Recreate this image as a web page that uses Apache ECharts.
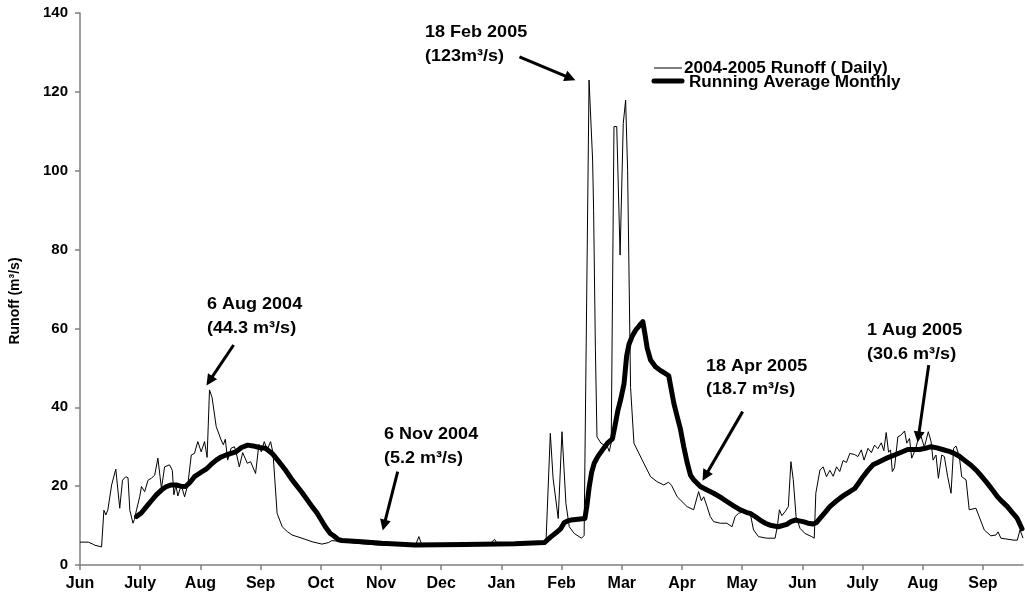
<!DOCTYPE html>
<html>
<head>
<meta charset="utf-8">
<script src="https://cdn.jsdelivr.net/npm/echarts@6/dist/echarts.min.js"></script>
<style>html,body{margin:0;padding:0;background:#fff}#c{width:1025px;height:604px}</style>
</head>
<body>
<div id="c"></div>
<script>
// x values are days counted from the start of June 2004 (one axis month = 30.45 days)
var monthLabels = ['Jun','July','Aug','Sep','Oct','Nov','Dec','Jan','Feb','Mar','Apr','May','Jun','July','Aug','Sep'];
var monthStep = 30.45;
var yTicks = [0,20,40,60,80,100,120,140];

var dailyDays = [0,4.2,6.5,7.6,10.9,12.1,13.1,14.1,16,16.6,18.1,20.1,21.5,23.2,24.3,25.2,26.8,27.5,28.6,30.2,31.1,32.7,34.4,36.1,37.8,39.4,41.2,42.8,45.3,46.7,47.5,48.5,49.5,51.2,52.9,54.5,56.3,57.9,59.6,61.3,63,64.3,65.5,66.8,68.9,71.4,72.5,73.5,74.7,76.4,78.1,78.9,80.6,82.3,84.6,86.3,88.8,90.5,91.7,93.2,94.7,96.4,97.6,98.5,99.7,102.3,104.8,107.3,112.3,117.4,122.4,125.8,127.4,132.5,142.5,152.6,167.7,169.7,171.4,173,187.9,207,209.7,211.5,228.2,235.7,237.9,239.3,241.9,243.8,245.8,247.5,250,253.7,255,257.5,259.3,259.8,260.7,261.5,263.5,266.8,267.7,268.7,270.1,271.5,273.2,274.8,276,277,278.5,280.2,284.4,288.6,292,295.3,297.7,299.2,302.1,307.1,310.4,312.9,314.3,315.5,317.2,318.8,320.5,323.9,327.2,329.8,331.4,333.1,335.6,337.3,339,340.7,343.2,347.4,351.6,352.7,353.8,355,356.6,358.3,359.6,360.8,362.2,364.2,366.7,370.1,371.4,372.2,374.3,375.9,377.6,379.3,381,382.7,384.3,386,387.7,389.4,391.9,393.5,395.2,396.6,398.6,400.3,401.9,403.6,405.3,406.6,407.8,409,410,410.9,412,413.7,415.4,417.1,418.2,419.6,420.7,422.5,424.1,425.5,427.1,429.1,430.5,431.5,433,434.2,435.9,437.2,438.9,440.6,441.9,443.1,444.8,446,448.2,449.8,453.2,454.8,457.4,460.7,463.3,464.4,465.8,472.5,474.1,475.5,477];
var dailyRunoff = [5.8,5.8,5.3,5.0,4.6,13.9,12.7,14.0,20.3,20.0,24.3,14.4,21.5,22.4,22.1,13.9,10.6,11.5,14.0,17.3,19.9,18.6,21.5,22.0,22.8,27.1,19.4,24.9,25.4,24.0,17.8,20.3,17.5,20.3,17.3,20.3,27.9,28.3,31.3,28.7,31.3,27.3,44.4,42.5,35.1,31.7,30.5,31.9,26.6,29.6,30.0,28.7,24.9,28.5,25.8,26.2,23.2,30.6,28.7,31.3,29.2,31.3,28.5,22.0,13.1,9.7,8.5,7.6,6.8,5.9,5.3,5.7,6.2,5.9,5.4,5.0,4.9,5.0,7.2,5.0,4.9,5.2,6.5,5.1,5.2,5.6,33.4,22.0,11.8,33.8,15.6,9.7,8.0,6.8,7.5,123.0,102.7,90,55,32.5,30.9,30.0,28.8,31.0,111.2,111.2,78.6,112,117.9,100,45,30.9,26.6,22.4,21.1,20.3,21.0,20.2,17.3,14.8,14.0,18.6,16.3,17.3,14.8,12.3,11.0,10.6,10.6,9.7,12.3,13.1,13.5,12.8,13.1,8.9,7.2,6.8,6.8,9.7,14.0,12.5,13.5,14.8,26.2,21.6,12.3,9.3,8.0,7.2,6.8,18.2,24.1,24.9,22.4,24.0,22.5,24.9,23.7,26.5,26.0,28.3,28.0,27.5,29.2,26.6,29.6,28.5,30.4,29.5,31.0,29.0,33.6,28.6,29.2,23.7,24.7,32.5,33.0,34.0,30.9,32.1,27.1,29.2,32.1,32.5,29.9,33.8,31.3,26.6,27.9,22.0,27.9,27.5,22.4,18.2,29.6,30.2,27.5,22.4,21.6,14.0,14.4,12.3,8.9,7.4,7.6,8.4,6.8,6.3,6.3,8.9,6.8];

var avgDays = [28.6,31,33.6,36.1,38.6,41.2,43.7,46.2,48.7,51,53.4,55.7,57.9,60.9,63.8,66.3,68.9,71.4,73.9,76.4,78.9,81.7,84.8,87.6,90.7,93.8,97.2,100.6,103.9,107.3,112.3,117.4,119.9,124.1,126.6,128.3,130.8,132.5,142.5,152.6,169.4,194.6,219.8,234.9,238.3,241.6,243.3,244.9,246.7,248.3,251.9,255.4,256.4,257.6,258.8,260.1,261.9,264.3,266.8,269.3,270.5,272,273.5,275.2,276.5,277.7,279.3,281.1,283.1,284.7,285.8,286.9,288.6,291.1,293.7,295.6,297.8,298.9,300.4,302.1,303.7,305.4,307.1,308.8,310.4,313.8,317.2,320.5,323.9,327.2,330.6,334,337.3,339,341.5,344,346.6,349.1,353.2,357.5,359.6,361.7,363.7,365.8,368.2,370.9,372.6,374.3,376.8,379.3,381.8,384.3,386.8,389.4,391.9,393.9,396.1,398.6,401.1,403.6,406.1,409,412,415.4,418.7,421.6,424.6,427.6,430.5,433.4,436.3,439.2,442.2,444.8,447.3,450.7,454,456.5,459,461.6,464.1,466.6,469.1,471.6,474.1,476.5];
var avgRunoff = [12.3,13.2,14.8,16.3,17.8,19.0,19.9,20.3,20.3,20.0,19.9,21.0,22.4,23.4,24.3,25.5,26.6,27.4,27.9,28.3,28.7,29.8,30.4,30.2,29.8,29.6,28.3,26.2,24.1,21.6,18.4,14.8,13.2,9.7,8.0,7.4,6.4,6.2,5.9,5.5,5.1,5.2,5.4,5.7,7.2,8.5,9.3,10.7,11.2,11.4,11.6,11.8,15.0,19.9,23.5,25.8,27.5,29.2,30.9,32.0,35.0,39.0,42.0,46.0,53.0,56.0,58.0,59.6,60.8,61.7,58.5,55.0,52.0,50.3,49.3,48.7,48.0,45.0,41.0,37.6,34.5,30.0,26.0,22.8,21.6,19.9,19.0,18.2,17.2,16.1,15.0,14.0,13.3,13.1,12.3,11.4,10.6,10.1,9.7,10.3,11.0,11.4,11.2,11.0,10.6,10.4,10.8,11.8,13.3,14.8,15.9,16.9,17.8,18.6,19.4,20.8,22.4,24.0,25.4,26.0,26.6,27.3,27.9,28.6,29.3,29.3,29.3,29.6,30.0,29.7,29.3,28.9,28.3,27.6,26.6,25.3,23.7,22.2,20.7,19.0,17.3,16.0,14.8,13.3,11.8,9.2];

// annotations: [line1, line2, arrowTailDay, arrowTailValue, arrowHeadDay, arrowHeadValue]
var notes = [
  ['6 Aug 2004', '(44.3 m³/s)', 77.7, 55.8, 65.5, 46.7],
  ['6 Nov 2004', '(5.2 m³/s)', 160.7, 23.7, 153.8, 10.1],
  ['18 Feb 2005', '(123m³/s)', 222.3, 128.9, 248.0, 123.5],
  ['18 Apr 2005', '(18.7 m³/s)', 335.2, 38.9, 316.3, 22.6],
  ['1 Aug 2005', '(30.6 m³/s)', 429.3, 50.7, 424.1, 32.5]
];
var notePos = [[207,304,328],[384,434,458],[425,32,56],[706,366,389],[867,330,354]];

var FONT = '"Liberation Sans", Arial, sans-serif';
var chart = echarts.init(document.getElementById('c'));

var arrowData = notes.map(function(n){
  return [{coord:[n[2], n[3]]}, {coord:[n[4], n[5]]}];
});
var dailyData = dailyDays.map(function(d,i){return [d, dailyRunoff[i]];});
var avgData = avgDays.map(function(d,i){return [d, avgRunoff[i]];});
var monthTicks = monthLabels.map(function(m,i){return +(i*monthStep).toFixed(2);});

var graphics = [];
notes.forEach(function(n,i){
  var p = notePos[i];
  graphics.push({type:'text', x:p[0], y:p[1], scaleX:1.06, style:{text:n[0], font:'bold 17px '+FONT, fill:'#000', align:'left', verticalAlign:'middle'}});
  graphics.push({type:'text', x:p[0], y:p[2], scaleX:1.06, style:{text:n[1], font:'bold 17px '+FONT, fill:'#000', align:'left', verticalAlign:'middle'}});
});
// legend
graphics.push({type:'line', shape:{x1:654,y1:68,x2:682,y2:68}, style:{stroke:'#000', lineWidth:1}});
graphics.push({type:'text', x:684, y:69, scaleX:1.07, style:{text:'2004-2005 Runoff ( Daily)', font:'bold 16px '+FONT, fill:'#000', align:'left', verticalAlign:'middle'}});
graphics.push({type:'line', shape:{x1:654,y1:81,x2:682,y2:81}, style:{stroke:'#000', lineWidth:5, lineCap:'round'}});
graphics.push({type:'text', x:689, y:83, scaleX:1.07, style:{text:'Running Average Monthly', font:'bold 16px '+FONT, fill:'#000', align:'left', verticalAlign:'middle'}});

chart.setOption({
  animation:false,
  backgroundColor:'#fff',
  grid:{left:77, right:2, top:13, bottom:39, containLabel:false},
  xAxis:{
    type:'value', min:0, max:477, interval:monthStep,
    splitLine:{show:false},
    axisLine:{lineStyle:{color:'#808080', width:1.5}},
    axisTick:{show:true, length:5, lineStyle:{color:'#808080', width:1.5}, customValues:monthTicks},
    axisLabel:{customValues:monthTicks, color:'#000', fontWeight:'bold', fontSize:16, fontFamily:FONT, margin:11,
      formatter:function(v){var k=Math.round(v/monthStep); return Math.abs(v-k*monthStep)<0.5 && monthLabels[k] ? monthLabels[k] : '';}}
  },
  yAxis:{
    type:'value', min:yTicks[0], max:yTicks[yTicks.length-1], interval:20,
    name:'Runoff (m³/s)', nameLocation:'middle', nameRotate:90, nameGap:58,
    nameTextStyle:{color:'#000', fontWeight:'bold', fontSize:14, fontFamily:FONT, padding:[0,24,0,0]},
    splitLine:{show:false},
    axisLine:{show:true, lineStyle:{color:'#808080', width:1.5}},
    axisTick:{show:true, length:5, lineStyle:{color:'#808080', width:1.5}},
    axisLabel:{color:'#000', fontWeight:'bold', fontSize:15, fontFamily:FONT, margin:12}
  },
  series:[
    {name:'2004-2005 Runoff ( Daily)', type:'line', data:dailyData, showSymbol:false, symbol:'none',
      lineStyle:{color:'#000', width:1}, z:2,
      markLine:{silent:true, symbol:['none','triangle'], symbolSize:11, label:{show:false},
        itemStyle:{color:'#000'},
        lineStyle:{color:'#000', width:3, type:'solid'}, emphasis:{disabled:true}, data:arrowData}},
    {name:'Running Average Monthly', type:'line', data:avgData, showSymbol:false, symbol:'none',
      lineStyle:{color:'#000', width:5, join:'round', cap:'round'}, z:3}
  ],
  graphic:graphics
});
</script>
</body>
</html>
